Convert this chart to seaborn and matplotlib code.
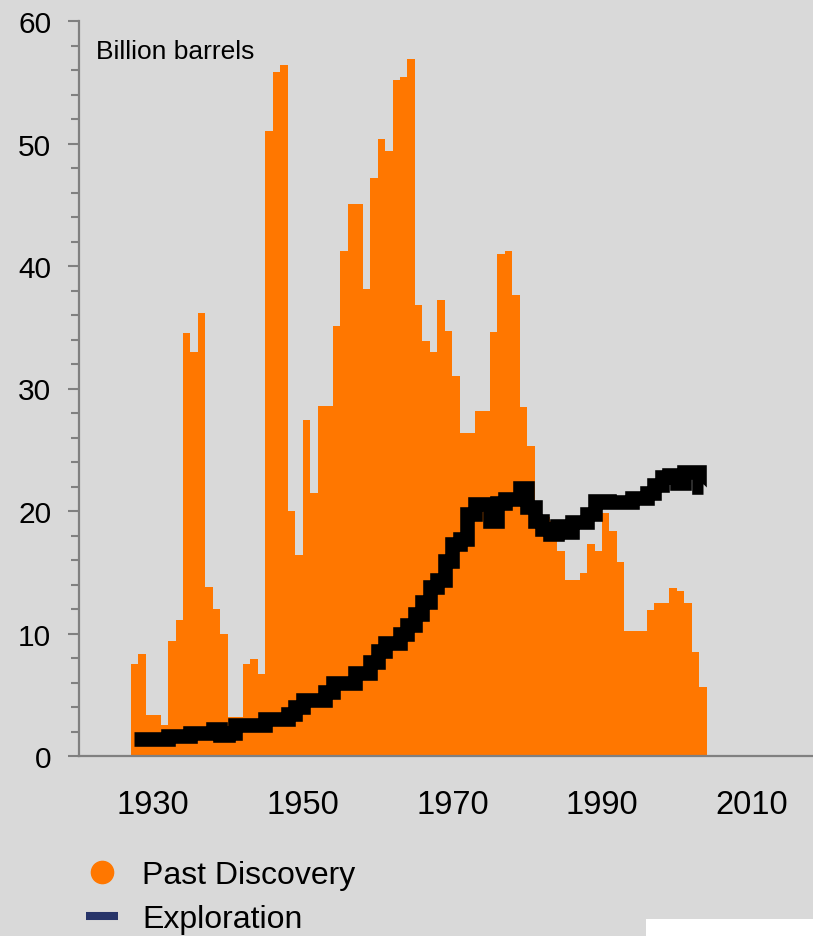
import numpy as np
import pandas as pd
import matplotlib
matplotlib.use("Agg")
import matplotlib.pyplot as plt
import seaborn as sns
from matplotlib.lines import Line2D
from matplotlib.patches import Rectangle

# Données (milliards de barils)
years = list(range(1927, 2004))
past_discovery = [
    7.5, 8.3, 3.35, 3.35, 2.5, 9.35, 11.1, 34.5, 33.0, 36.2,
    13.8, 12.0, 10.0, 3.2, 3.2, 7.5, 7.9, 6.7, 51.0, 55.8,
    56.4, 20.0, 16.4, 27.4, 21.5, 28.6, 28.6, 35.1, 41.2, 45.1,
    45.1, 38.1, 47.2, 50.4, 49.4, 55.2, 55.4, 56.9, 36.8, 33.9,
    33.0, 37.2, 34.7, 31.0, 26.4, 26.4, 28.2, 28.2, 34.6, 41.0,
    41.2, 37.6, 28.5, 25.3, 20.5, 19.5, 19.2, 16.7, 14.4, 14.4,
    14.9, 17.3, 16.7, 19.8, 18.4, 15.8, 10.2, 10.2, 10.2, 11.9,
    12.5, 12.5, 13.7, 13.5, 12.5, 8.5, 5.6,
]
exploration = [
    1.39, 1.39, 1.39, 1.39, 1.39, 1.6, 1.6, 1.6, 1.88, 1.88,
    1.88, 2.2, 1.7, 1.9, 2.55, 2.55, 2.55, 2.55, 3.0, 3.0,
    3.0, 3.4, 4.0, 4.6, 4.6, 4.6, 5.2, 6.0, 6.0, 6.0,
    6.8, 6.8, 7.65, 8.6, 9.2, 9.2, 10.0, 10.7, 11.6, 12.6,
    13.8, 14.4, 15.9, 17.3, 17.7, 19.75, 20.6, 20.6, 19.2, 20.65,
    21.0, 21.0, 21.9, 20.3, 19.2, 18.5, 18.1, 18.8, 18.3, 19.1,
    19.1, 19.75, 20.8, 20.8, 20.7, 20.7, 20.7, 21.1, 21.1, 21.5,
    22.1, 22.75, 22.9, 22.3, 23.2, 23.2, 22.0,
]
tick_years = [1930, 1950, 1970, 1990, 2010]
y_ticks = [0, 10, 20, 30, 40, 50, 60]

orange = "#FF7700"
grey_bg = "#D9D9D9"
axis_grey = "#808080"

df = pd.DataFrame({"year": years, "discovery": past_discovery, "exploration": exploration})

sns.set_theme(style="white")
plt.rcParams["font.family"] = ["Liberation Sans", "DejaVu Sans"]
plt.rcParams["text.color"] = "black"

fig = plt.figure(figsize=(8.13, 9.37), dpi=100, facecolor=grey_bg)
ax = fig.add_axes([79 / 813, 180 / 937, 734 / 813, 735 / 937])
ax.set_facecolor(grey_bg)

# Découvertes passées : histogramme pondéré, un pas par année
sns.histplot(data=df, x="year", weights="discovery", binwidth=1, binrange=(1927, 2004),
             element="step", fill=True, color=orange, alpha=1, linewidth=0, ax=ax)

# Exploration : ligne épaisse en escalier
sns.lineplot(x=df["year"] + 0.5, y=df["exploration"], color="black", linewidth=10.5,
             drawstyle="steps-mid", estimator=None, solid_capstyle="butt",
             solid_joinstyle="miter", ax=ax)

ax.set_xlim(1920.1, 2018.2)
ax.set_ylim(0, 60)
ax.set_xticks(tick_years)
ax.set_xticklabels([str(t) for t in tick_years])
ax.set_yticks(y_ticks)
ax.set_yticks(np.arange(0, 61, 2), minor=True)
ax.set_xlabel("")
ax.set_ylabel("")

for side in ["top", "right"]:
    ax.spines[side].set_visible(False)
for side in ["left", "bottom"]:
    ax.spines[side].set_color(axis_grey)
    ax.spines[side].set_linewidth(1.6)

ax.tick_params(axis="y", which="major", direction="out", length=8, width=1.5,
               color=axis_grey, labelsize=21.5, pad=12, left=True)
ax.tick_params(axis="y", which="minor", direction="out", length=6, width=1.5,
               color=axis_grey, left=True)
ax.tick_params(axis="x", length=0, labelsize=23.5, pad=24)
for lab in ax.get_xticklabels() + ax.get_yticklabels():
    lab.set_color("black")

ax.text(0.0228, 0.949, "Billion barrels", transform=ax.transAxes,
        fontsize=19, va="baseline", ha="left", color="black")

handles = [
    Line2D([], [], marker="o", linestyle="none", markersize=16,
           markerfacecolor=orange, markeredgecolor=orange),
    Line2D([], [], color="#273469", linewidth=5.8, solid_capstyle="butt"),
]
leg = fig.legend(handles, ["Past Discovery", "Exploration"], loc="upper left",
                 bbox_to_anchor=(86 / 813, 1 - 861 / 937), frameon=False, fontsize=23,
                 handlelength=1.0, handletextpad=0.75, labelspacing=0.44,
                 borderpad=0, borderaxespad=0)
for t in leg.get_texts():
    t.set_color("black")

# petit rectangle blanc en bas à droite
fig.patches.append(Rectangle((646 / 813, 0), 1, 17 / 937, transform=fig.transFigure,
                             facecolor="white", edgecolor="none"))

fig.savefig("out.png", dpi=100, facecolor=grey_bg)
